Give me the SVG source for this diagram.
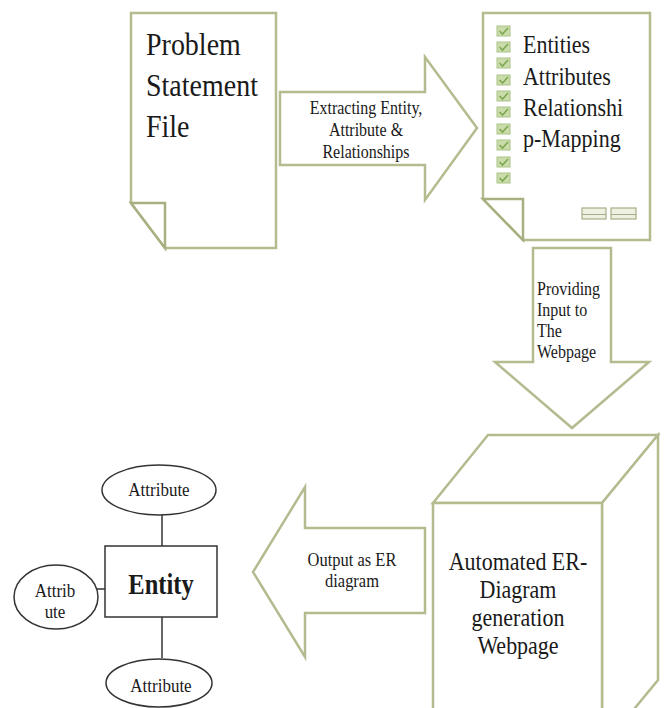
<svg xmlns="http://www.w3.org/2000/svg" width="665" height="708" viewBox="0 0 665 708">
<style>
.sh{fill:#ffffff;stroke:#b3bb8f;stroke-width:2.5;stroke-linejoin:miter}
.fold{fill:#ffffff;stroke:#a7b080;stroke-width:2.5}
.t{font-family:'Liberation Serif','Times New Roman',serif;fill:#1a1a1a}
.er{fill:#ffffff;stroke:#333333;stroke-width:1.5}
.ln{stroke:#333333;stroke-width:1.5;fill:none}
.cb{fill:#c9dcaa;stroke:#a9c386;stroke-width:1}
.ck{fill:none;stroke:#7fa651;stroke-width:1.6}
.btn{fill:#eef0e2;stroke:#a7ae86;stroke-width:1.2}
</style>
<defs>
<g id="chk">
<rect class="cb" x="0" y="0" width="13" height="10"/>
<path class="ck" d="M2.5 5 L5.5 8 L11 2"/>
</g>
</defs>

<g id="connectors">
<g id="arrow-extract">
<polygon class="sh" points="280,92 425,92 425,57 477,128 425,200 425,165 280,165"/>
<text class="t" font-size="16" text-anchor="middle" transform="translate(366,114) scale(1,1.15)"><tspan x="0" y="0">Extracting Entity,</tspan><tspan x="0" dy="19.5">Attribute &amp;</tspan><tspan x="0" dy="18.5">Relationships</tspan></text>
</g>
<g id="arrow-input">
<polygon class="sh" points="533,248 611,248 611,362 649,362 572,428 495,362 533,362"/>
<text class="t" font-size="16" transform="translate(537,295) scale(1,1.15)"><tspan x="0" y="0">Providing</tspan><tspan x="0" dy="18.3">Input to</tspan><tspan x="0" dy="18.3">The</tspan><tspan x="0" dy="18.3">Webpage</tspan></text>
</g>
<g id="arrow-output">
<polygon class="sh" points="425,528 425,613 305,613 305,657 253,572 305,487 305,528"/>
<text class="t" font-size="16.5" text-anchor="middle" transform="translate(352,566) scale(1,1.15)"><tspan x="0" y="0">Output as ER</tspan><tspan x="0" dy="18.3">diagram</tspan></text>
</g>
</g>

<g id="problem-file">
<polygon class="sh" points="131,13 276,13 276,248 165,248 131,203"/>
<polygon class="fold" points="131,203 165,203 165,248"/>
<text class="t" font-size="28" transform="translate(146,55) scale(1,1.15)"><tspan x="0" y="0">Problem</tspan><tspan x="0" dy="36">Statement</tspan><tspan x="0" dy="35">File</tspan></text>
</g>

<g id="extracted-file">
<polygon class="sh" points="483,13 650,13 650,240 523,240 483,199"/>
<polygon class="fold" points="483,199 523,199 523,240"/>
<use href="#chk" x="497" y="26"/>
<use href="#chk" x="497" y="42"/>
<use href="#chk" x="497" y="58"/>
<use href="#chk" x="497" y="75"/>
<use href="#chk" x="497" y="91"/>
<use href="#chk" x="497" y="107"/>
<use href="#chk" x="497" y="124"/>
<use href="#chk" x="497" y="140"/>
<use href="#chk" x="497" y="157"/>
<use href="#chk" x="497" y="173"/>
<rect class="btn" x="582" y="208" width="24" height="11"/>
<line x1="582" y1="214.5" x2="606" y2="214.5" stroke="#a7ae86" stroke-width="1"/>
<rect class="btn" x="611" y="208" width="25" height="11"/>
<line x1="611" y1="214.5" x2="636" y2="214.5" stroke="#a7ae86" stroke-width="1"/>
<text class="t" font-size="22" transform="translate(523,53) scale(1,1.15)"><tspan x="0" y="0">Entities</tspan><tspan x="0" dy="27.5">Attributes</tspan><tspan x="0" dy="27">Relationshi</tspan><tspan x="0" dy="27.5">p-Mapping</tspan></text>
</g>

<g id="webpage-cube">
<polygon class="sh" points="433,503 488,435 658,435 602,503"/>
<polygon class="sh" points="602,503 658,435 658,680 602,748"/>
<rect class="sh" x="433" y="503" width="169" height="250"/>
<text class="t" font-size="22" text-anchor="middle" transform="translate(518,570) scale(1,1.15)"><tspan x="0" y="0">Automated ER-</tspan><tspan x="0" dy="24.3">Diagram</tspan><tspan x="0" dy="24.3">generation</tspan><tspan x="0" dy="24.3">Webpage</tspan></text>
</g>

<g id="er-links">
<line class="ln" x1="162" y1="515" x2="162" y2="546"/>
<line class="ln" x1="162" y1="617" x2="162" y2="658"/>
<line class="ln" x1="97" y1="589" x2="105" y2="589"/>
</g>

<g id="attr-top">
<ellipse class="er" cx="159" cy="490" rx="57" ry="25"/>
<text class="t" font-size="17" text-anchor="middle" transform="translate(159,496) scale(1,1.15)">Attribute</text>
</g>

<g id="entity">
<rect class="er" x="105" y="546" width="112" height="71"/>
<text class="t" font-size="24.5" font-weight="bold" text-anchor="middle" transform="translate(161,594) scale(1,1.18)">Entity</text>
</g>

<g id="attr-left">
<ellipse class="er" cx="56" cy="597" rx="42" ry="32"/>
<text class="t" font-size="17" text-anchor="middle" transform="translate(55,597) scale(1,1.15)"><tspan x="0" y="0">Attrib</tspan><tspan x="0" dy="18">ute</tspan></text>
</g>

<g id="attr-bottom">
<ellipse class="er" cx="159" cy="683" rx="53" ry="24"/>
<text class="t" font-size="17" text-anchor="middle" transform="translate(161,692) scale(1,1.15)">Attribute</text>
</g>
</svg>
